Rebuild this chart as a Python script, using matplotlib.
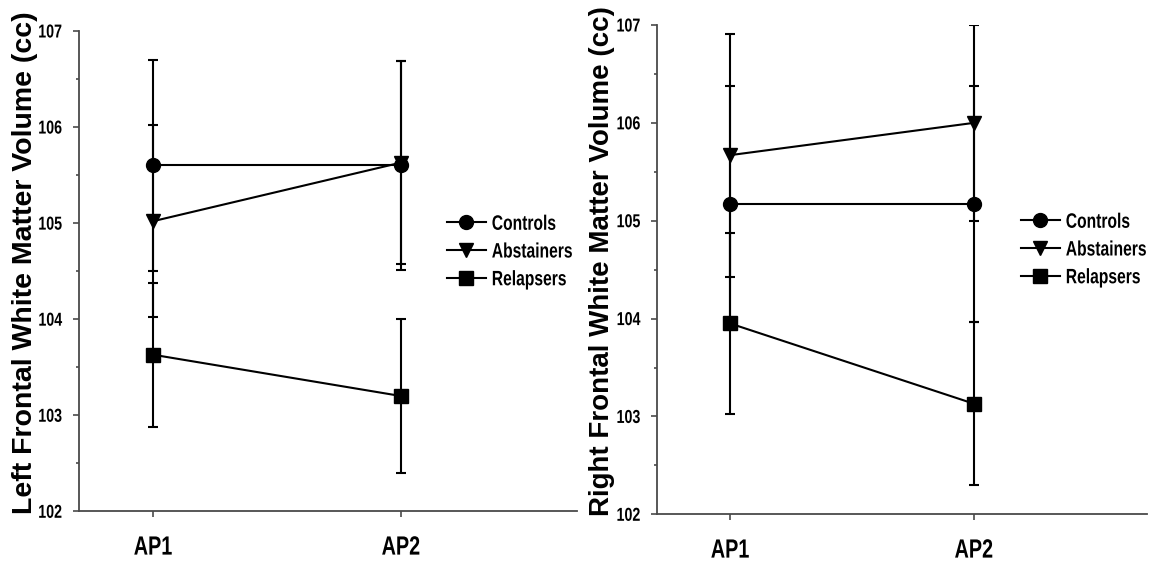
import matplotlib
matplotlib.use("Agg")
import matplotlib.pyplot as plt
from matplotlib.patheffects import AbstractPathEffect
from matplotlib.transforms import Affine2D
from matplotlib.ticker import MultipleLocator

FONT = "Liberation Sans"

# ---- data ----
timepoints = ["AP1", "AP2"]
groups = ["Controls", "Abstainers", "Relapsers"]
markers = ["o", "v", "s"]
yticks = [102, 103, 104, 105, 106, 107]

left_controls = [105.60, 105.60]
left_controls_err = [1.10, 1.09]
left_abstainers = [105.02, 105.63]
left_abstainers_err = [1.00, 1.06]
left_relapsers = [103.63, 103.20]
left_relapsers_err = [0.75, 0.80]

right_controls = [105.17, 105.17]
right_controls_err = [1.21, 1.21]
right_abstainers = [105.67, 106.00]
right_abstainers_err = [1.24, 1.00]
right_relapsers = [103.95, 103.13]
right_relapsers_err = [0.92, 0.83]


class Squish(AbstractPathEffect):
    """Draw text horizontally condensed (narrow-font look)."""
    def __init__(self, sx=0.76, anchor="center"):
        super().__init__()
        self.sx = sx
        self.anchor = anchor

    def draw_path(self, renderer, gc, tpath, affine, rgbFace=None):
        v = tpath.vertices
        if len(v):
            x0, x1 = v[:, 0].min(), v[:, 0].max()
        else:
            x0 = x1 = 0.0
        if self.anchor == "left":
            cx = 0.0
        elif self.anchor == "right":
            cx = x1
        else:
            cx = 0.5 * (x0 + x1)
        t = Affine2D().translate(-cx, 0).scale(self.sx, 1).translate(cx, 0) + affine
        renderer.draw_path(gc, tpath, t, rgbFace)


W, H = 1153, 567
fig = plt.figure(figsize=(W / 100, H / 100), dpi=100)

panels = [
    dict(rect=[78.7 / W, (H - 511.3) / H, (577 - 78.7) / W, 480.3 / H],
         series=[(left_controls, left_controls_err),
                 (left_abstainers, left_abstainers_err),
                 (left_relapsers, left_relapsers_err)],
         ylabel="Left Frontal White Matter Volume (cc)",
         ylabel_size=20.5,
         label_x=(38 - 78.7) / (577 - 78.7),
         label_y=0.517,
         leg=(447 / W, 1 - 252 / H)),
    dict(rect=[657 / W, (H - 514.3) / H, (1147 - 657) / W, 489.3 / H],
         series=[(right_controls, right_controls_err),
                 (right_abstainers, right_abstainers_err),
                 (right_relapsers, right_relapsers_err)],
         ylabel="Right Frontal White Matter Volume (cc)",
         ylabel_size=20,
         label_x=(615 - 657) / (1147 - 657),
         label_y=0.517,
         leg=(1021 / W, 1 - 250 / H)),
]

xs = [1, 2]
spine_col = "#4a4a4a"
for p in panels:
    ax = fig.add_axes(p["rect"])
    handles = []
    for (vals, errs), mk, name in zip(p["series"], markers, groups):
        eb = ax.errorbar(xs, vals, yerr=errs, color="black", lw=1.5,
                         marker=mk, markersize=10, capsize=3.8, capthick=1.5,
                         elinewidth=1.5, label=name, zorder=3)
        handles.append(eb[0])
    ax.set_xlim(0.70, 2.71)
    ax.set_ylim(102, 107)
    ax.set_xticks(xs)
    ax.set_xticklabels(timepoints, fontfamily=FONT, fontweight="bold", fontsize=19,
                       path_effects=[Squish(0.75, "center")])
    ax.set_yticks(yticks)
    ax.set_yticklabels([str(t) for t in yticks], fontfamily=FONT, fontweight="bold",
                       fontsize=13.5, path_effects=[Squish(0.76, "right")])
    ax.yaxis.set_minor_locator(MultipleLocator(0.5))
    ax.tick_params(axis="y", which="major", length=4.5, width=1.2, color=spine_col, pad=7.5)
    ax.tick_params(axis="y", which="minor", length=2.5, width=1.2, color=spine_col)
    ax.tick_params(axis="x", which="major", length=4.5, width=1.2, color=spine_col, pad=13)
    for s in ["top", "right"]:
        ax.spines[s].set_visible(False)
    for s in ["left", "bottom"]:
        ax.spines[s].set_color(spine_col)
        ax.spines[s].set_linewidth(1.3)
    ax.set_ylabel(p["ylabel"], fontfamily=FONT, fontweight="bold", fontsize=p["ylabel_size"])
    ax.yaxis.set_label_coords(p["label_x"], p["label_y"])
    leg = ax.legend(handles=handles, labels=groups, loc="center left",
                    bbox_to_anchor=p["leg"], bbox_transform=fig.transFigure,
                    frameon=False, borderpad=0, borderaxespad=0,
                    handlelength=1.85, handletextpad=0.3, labelspacing=0.42,
                    prop=dict(family=FONT, weight="bold", size=15))
    for t in leg.get_texts():
        t.set_path_effects([Squish(0.75, "left")])

fig.savefig("out.png", dpi=100)
